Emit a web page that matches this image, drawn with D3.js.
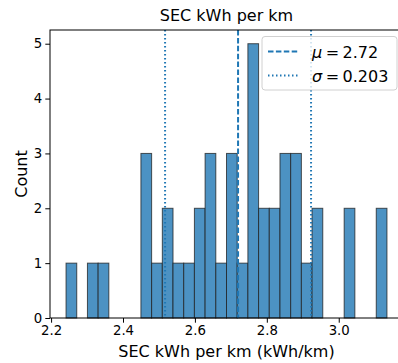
<!DOCTYPE html>
<html><head><meta charset="utf-8">
<script src="https://cdn.jsdelivr.net/npm/d3@7"></script>
<style>body{margin:0;background:#fff}svg{display:block;font-family:"DejaVu Sans",sans-serif}</style>
</head><body><svg id="c" width="398" height="363"></svg>
<script>
const binStart = 2.2416;
const binWidth = 0.02975;
const counts = [1,0,1,1,0,0,0,3,1,2,1,1,2,3,1,3,1,5,2,2,3,3,1,2,0,0,2,0,0,2];
const xTicks = [2.2, 2.4, 2.6, 2.8, 3.0];
const yTicks = [0, 1, 2, 3, 4, 5];
const mu = 2.72, sigma = 0.203;
const title = "SEC kWh per km";
const xLabel = "SEC kWh per km (kWh/km)";
const yLabel = "Count";

const svg = d3.select("#c");
const L = 50, R = 403, T = 30, B = 318;
const dataMax = binStart + binWidth * counts.length;
const pad = (dataMax - binStart) * 0.05;
const x = d3.scaleLinear().domain([binStart - pad, dataMax + pad]).range([L, R]);
const y = d3.scaleLinear().domain([0, 5.25]).range([B, T]);

const bins = counts.map((c, i) => ({x0: binStart + i * binWidth, x1: binStart + (i + 1) * binWidth, c}));
svg.append("g").selectAll("rect").data(bins.filter(d => d.c > 0)).join("rect")
  .attr("x", d => x(d.x0)).attr("width", d => x(d.x1) - x(d.x0))
  .attr("y", d => y(d.c)).attr("height", d => y(0) - y(d.c))
  .attr("fill", "rgb(76,146,195)")
  .attr("stroke", "rgba(30,30,30,0.75)").attr("stroke-width", 1);

// vertical lines
const lines = [
  {v: mu, dash: "5.5,2.4"},
  {v: mu - sigma, dash: "1.5,2.5"},
  {v: mu + sigma, dash: "1.5,2.5"}
];
svg.append("g").selectAll("line").data(lines).join("line")
  .attr("x1", d => x(d.v)).attr("x2", d => x(d.v)).attr("y1", T).attr("y2", B)
  .attr("stroke", "#1f77b4").attr("stroke-width", 2).attr("stroke-dasharray", d => d.dash);

// axes
const xa = svg.append("g").attr("transform", `translate(0,${B})`)
  .call(d3.axisBottom(x).tickValues(xTicks).tickFormat(d3.format(".1f")).tickSize(4.7).tickPadding(3));
const ya = svg.append("g").attr("transform", `translate(${L},0)`)
  .call(d3.axisLeft(y).tickValues(yTicks).tickFormat(d3.format("d")).tickSize(4.7).tickPadding(3));
[xa, ya].forEach(a => {
  a.select(".domain").remove();
  a.selectAll("text").attr("font-size", 13.3).attr("fill", "#000").attr("font-family", "DejaVu Sans");
  a.selectAll("line").attr("stroke", "#000").attr("stroke-width", 1);
});
// spines
svg.append("rect").attr("x", L).attr("y", T).attr("width", R - L).attr("height", B - T)
  .attr("fill", "none").attr("stroke", "#000").attr("stroke-width", 1);

// texts
svg.append("text").attr("x", (L + R) / 2).attr("y", 21).attr("text-anchor", "middle")
  .attr("font-size", 16).text(title);
svg.append("text").attr("x", (L + R) / 2).attr("y", 357).attr("text-anchor", "middle")
  .attr("font-size", 16).text(xLabel);
svg.append("text").attr("transform", `translate(27,${(T + B) / 2}) rotate(-90)`).attr("text-anchor", "middle")
  .attr("font-size", 16).text(yLabel);

// legend
const lg = svg.append("g");
lg.append("rect").attr("x", 262).attr("y", 36.5).attr("width", 135).attr("height", 53.5).attr("rx", 3)
  .attr("fill", "rgba(255,255,255,0.8)").attr("stroke", "#d0d0d0").attr("stroke-width", 1);
const entries = [
  {sym: "μ", val: mu.toFixed(2), dash: "5.5,2.4"},
  {sym: "σ", val: sigma.toFixed(3), dash: "1.5,2.5"}
];
entries.forEach((e, i) => {
  const cy = 51.5 + i * 24;
  lg.append("line").attr("x1", 268).attr("x2", 299).attr("y1", cy).attr("y2", cy)
    .attr("stroke", "#1f77b4").attr("stroke-width", 2).attr("stroke-dasharray", e.dash);
  const t = lg.append("text").attr("x", 312).attr("y", cy + 6).attr("font-size", 16);
  t.append("tspan").attr("font-style", "italic").text(e.sym);
  t.append("tspan").attr("dx", 3.5).text("=");
  t.append("tspan").attr("dx", 3.5).text(e.val);
});
</script></body></html>
